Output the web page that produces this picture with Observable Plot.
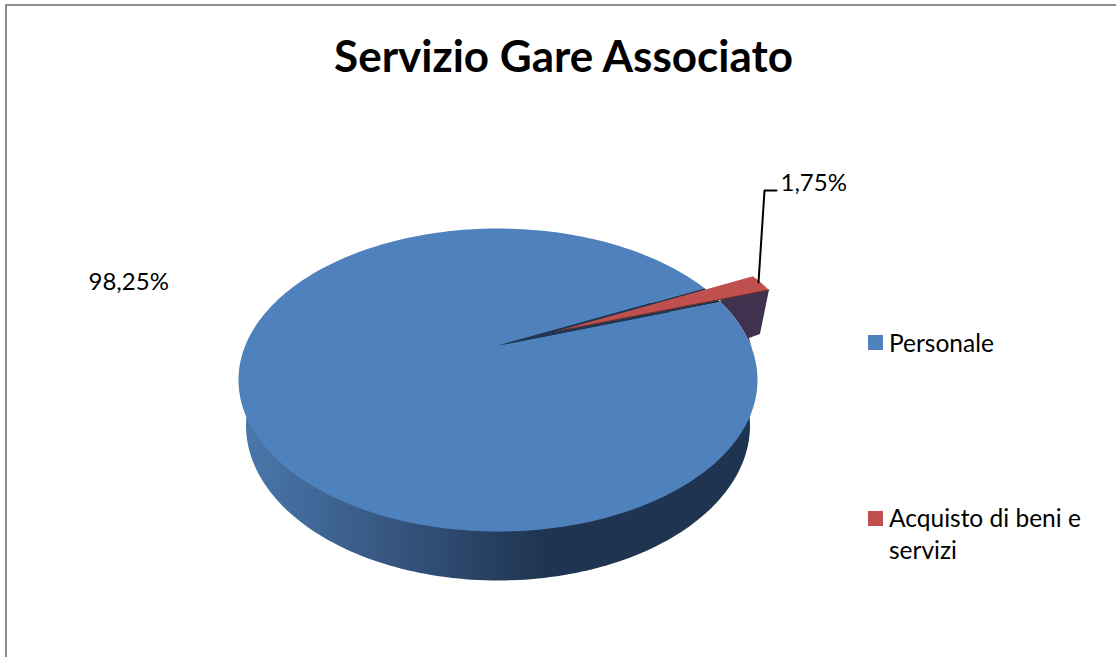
<!DOCTYPE html>
<html>
<head>
<meta charset="utf-8">
<script src="https://cdn.jsdelivr.net/npm/d3@7"></script>
<script src="https://cdn.jsdelivr.net/npm/@observablehq/plot@0.6"></script>
<style>
  html, body { margin: 0; padding: 0; background: #fff; overflow: hidden; }
  #frame { position: absolute; left: 5px; top: 4px; width: 1111px; height: 653px;
           border-top: 2px solid #8e8e8e; border-left: 2px solid #8e8e8e; box-sizing: border-box; }
  #chart { position: absolute; left: 0; top: 0; }
  svg { display: block; }
</style>
</head>
<body>
<div id="frame"></div>
<div id="chart"></div>
<script>
const categories = ["Personale", "Acquisto di beni e\nservizi"];
const values = [98.25, 1.75];
const valueLabels = ["98,25%", "1,75%"];
const title = "Servizio Gare Associato";
const colors = ["#4f81bd", "#c0504d"];

const W = 1116, H = 657;
const top3d = {cx: 497.5, cy: 379.5, rx: 259.5, ry: 151.5};
const base3d = {cx: 497.5, cy: 425, rx: 252, ry: 155};
const startDeg = 37.3;
const pieApex = [498, 345];
const redApex = [555, 331];
const redShift = [48.5, -12];

const total = d3.sum(values);
const sweepBlue = values[0] / total * 360;
const endDeg = startDeg + sweepBlue;
const pt = (e, deg, s = [0, 0]) => {
  const a = deg * Math.PI / 180;
  return {x: e.cx + s[0] + e.rx * Math.cos(a), y: e.cy + s[1] - e.ry * Math.sin(a)};
};
const arc = (e, a0, a1, s) => d3.range(0, 241).map(i => pt(e, a0 + (a1 - a0) * i / 240, s));
const P = ([x, y]) => ({x, y});

const bluePoly = [P(pieApex), ...arc(top3d, startDeg, endDeg)];
const wallPoly = arc(base3d, 0, 360);
const redPoly = [P(redApex), ...arc(top3d, startDeg, endDeg - 360, redShift)];
const a = pt(top3d, endDeg), r0 = pt(top3d, startDeg), r1 = pt(top3d, endDeg - 360, redShift);
const sliverPoly = [P(pieApex), r0, a];
const innerWall = [{x: a.x, y: a.y - 6}, r1, {x: r1.x - 9, y: r1.y + 44}, {x: r1.x - 20, y: r1.y + 48}, ...arc(top3d, 8, endDeg - 360)];
const redEdge = [P(redApex), r1];
const leader = [{x: 758, y: 282}, {x: 764, y: 190}, {x: 776, y: 190}];

const swatches = [
  {x1: 868, x2: 883, y1: 335, y2: 350},
  {x1: 868, x2: 883, y1: 511, y2: 526}
];
const legendText = [
  {x: 888.5, y: 340.5, t: categories[0]},
  {x: 888.5, y: 532, t: categories[1]}
];
const poly = (d, fill) => Plot.line(d, {x: "x", y: "y", fill, stroke: "none", curve: "linear"});

const chart = Plot.plot({
  width: W, height: H, margin: 0,
  x: {domain: [0, W], range: [0, W], axis: null},
  y: {domain: [0, H], range: [0, H], axis: null},
  style: {background: "transparent"},
  marks: [
    () => {
      const ns = "http://www.w3.org/2000/svg";
      const defs = document.createElementNS(ns, "defs");
      defs.innerHTML = `<linearGradient id="wall" gradientUnits="userSpaceOnUse" x1="245" x2="545" y1="0" y2="0">
        <stop offset="0" stop-color="#4a77ab"/><stop offset="0.5" stop-color="#35557f"/><stop offset="1" stop-color="#1f3450"/>
      </linearGradient>`;
      return defs;
    },
    poly(wallPoly, "url(#wall)"),
    poly(innerWall, "#40314f"),
    poly(bluePoly, colors[0]),
    poly(sliverPoly, "#1f3552"),
    poly(redPoly, colors[1]),
    Plot.line(redEdge, {x: "x", y: "y", stroke: "#6e2f2e", strokeWidth: 1}),
    Plot.line(leader, {x: "x", y: "y", stroke: "#000", strokeWidth: 2, curve: "linear"}),
    Plot.rect(swatches, {x1: "x1", x2: "x2", y1: "y1", y2: "y2", fill: (d, i) => colors[i]}),
    Plot.text(legendText, {x: "x", y: "y", text: "t", textAnchor: "start", lineAnchor: "middle", fontSize: 24.5, lineHeight: 1.34, fontFamily: "Lato, sans-serif", fill: "#000"}),
    Plot.text([valueLabels[0]], {x: [88], y: [282], text: d => d, textAnchor: "start", lineAnchor: "middle", fontSize: 24, fontFamily: "Lato, sans-serif", fill: "#000"}),
    Plot.text([valueLabels[1]], {x: [780], y: [183], text: d => d, textAnchor: "start", lineAnchor: "middle", fontSize: 24, fontFamily: "Lato, sans-serif", fill: "#000"}),
    Plot.text([title], {x: [563], y: [57], text: d => d, textAnchor: "middle", lineAnchor: "middle", fontSize: 44, fontWeight: "bold", fontFamily: "Lato, sans-serif", fill: "#000"})
  ]
});
document.getElementById("chart").append(chart);
</script>
</body>
</html>
